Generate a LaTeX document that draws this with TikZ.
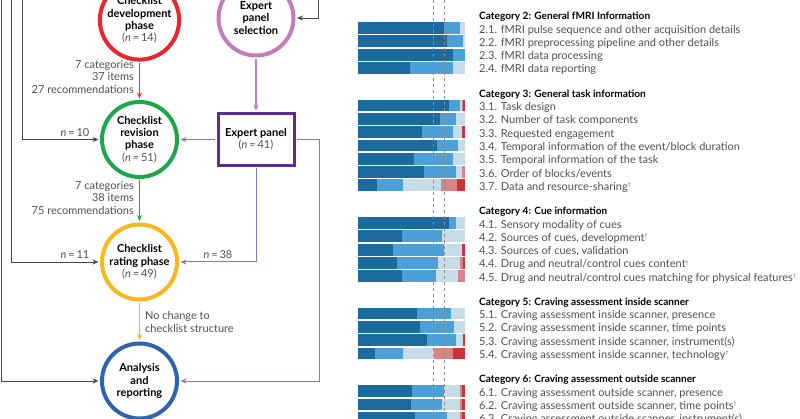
\documentclass[tikz,border=0pt]{standalone}
\usepackage{fontspec}
\setmainfont{Lato}
\usetikzlibrary{arrows.meta}
\definecolor{cdark}{HTML}{1C6B9F}
\definecolor{cmed}{HTML}{4C9FD7}
\definecolor{clight}{HTML}{C6DCE9}
\definecolor{clred}{HTML}{D98484}
\definecolor{cred}{HTML}{C8343B}
\definecolor{rdev}{HTML}{E8262B}
\definecolor{rsel}{HTML}{C27BBB}
\definecolor{rbox}{HTML}{5C2D91}
\definecolor{rrev}{HTML}{1FA54B}
\definecolor{rrat}{HTML}{F8B71C}
\definecolor{rana}{HTML}{3063AD}
\definecolor{lpur}{HTML}{9073C0}
\definecolor{txtg}{HTML}{505050}
\definecolor{lineg}{HTML}{444444}
\definecolor{dashg}{HTML}{8C8C8C}
\newcommand\seg[4]{\ifdim #3pt>#2pt \fill[#1] (#2,#4-7.1) rectangle (#3,#4+4.7);\fi}
% #1 y, #2 dark end, #3 medium end, #4 light end, #5 light-red end, #6 name, #7 text
\newcommand\itemrow[7]{%
  \seg{cdark}{358}{#2}{#1}\seg{cmed}{#2}{#3}{#1}\seg{clight}{#3}{#4}{#1}%
  \seg{clred}{#4}{#5}{#1}\seg{cred}{#5}{465}{#1}%
  \node[itemtxt] (#6) at (479,#1+3.8) {#7};}
\newcommand\dg{\textsuperscript{\tiny †}}
\newcommand\nn[1]{{\mdseries\color{txtg}(\textit{n}\,=\,#1)}}
\begin{document}
\begin{tikzpicture}[x=1pt,y=-1pt,
  ring/.style={circle, draw, line width=4pt, minimum size=75pt, inner sep=0pt, align=center,
    fill=white, text=black, font=\fontsize{11}{12.3}\selectfont\bfseries},
  lab/.style={text=txtg, font=\fontsize{11}{12.3}\selectfont, inner sep=0pt},
  itemtxt/.style={anchor=base west, inner sep=0pt, text=txtg, font=\fontsize{11}{12}\selectfont},
  headtxt/.style={anchor=base west, inner sep=0pt, text=black, font=\fontsize{10.1}{12}\selectfont\bfseries},
  blk/.style={draw=lineg, line width=0.9pt, -{Stealth[length=6pt,width=5pt]}},
  pur/.style={draw=lpur, line width=1pt, -{Stealth[length=6pt,width=5pt]}},
  col/.style={line width=1.1pt, -{Stealth[length=6pt,width=5pt]}, shorten >=1.5pt, shorten <=1.5pt}
]
\useasboundingbox (0,0) rectangle (800,419);
\clip (0,0) rectangle (800,419);
\fill[white] (0,0) rectangle (800,419);

% ---------- flow chart ----------
\node[ring, draw=rdev] (dev) at (139.5,20) {Checklist\\development\\phase\\\nn{14}};
\node[ring, draw=rsel] (sel) at (256,18) {Expert\\panel\\selection};
\node[ring, draw=rrev] (rev) at (139.5,139.5) {Checklist\\revision\\phase\\\nn{51}};
\node[ring, draw=rrat] (rat) at (139.5,262) {Checklist\\rating phase\\\nn{49}};
\node[ring, draw=rana] (ana) at (139.5,381) {Analysis\\and\\reporting};
\node[draw=rbox, line width=3pt, minimum width=76pt, minimum height=52pt, inner sep=0pt,
      align=center, fill=white, font=\fontsize{11}{12.3}\selectfont\bfseries] (box) at (256,139.5)
      {Expert panel\\\nn{41}};

\coordinate (t1) at (1,0);
\coordinate (t2) at (11,0);
\coordinate (t3) at (22,0);
\coordinate (t4) at (318,0);
\draw[blk, shorten >=1.5pt] (t3) |- (rev.west);
\draw[blk, shorten >=1.5pt] (t2) |- (rat.west);
\draw[blk, shorten >=1.5pt] (t1) |- (ana.west);
\draw[blk, shorten >=1.5pt] (t4) |- (sel.east);

\draw[col, draw=rdev!80!orange] (dev.south) -- (rev.north);
\draw[col, draw=rrev] (rev.south) -- (rat.north);
\draw[col, draw=rrat] (rat.south) -- (ana.north);
\draw[col, draw=rsel] (sel.south) -- (box.north);

\draw[pur, shorten >=1.5pt, shorten <=1.5pt] (box.west) -- (rev.east);
\draw[pur, shorten >=1.5pt, shorten <=1.5pt] (box.south) -- (box.south |- rat.east) -- (rat.east);
\draw[pur, shorten >=1.5pt, shorten <=1.5pt] (box.east) -- (319,139.5) |- (ana.east);

\node[lab, anchor=east, align=right] (lab1) at (134,77) {7 categories\\37 items\\27 recommendations};
\node[lab, anchor=east, align=right] (lab2) at (134,198) {7 categories\\38 items\\75 recommendations};
\node[lab, anchor=west, align=left] (lab3) at (145,322) {No change to\\checklist structure};
\node[lab, anchor=base] (n10) at (75,137) {\textit{n}\,=\,10};
\node[lab, anchor=base] (n11) at (75,259) {\textit{n}\,=\,11};
\node[lab, anchor=base] (n38) at (218,259) {\textit{n}\,=\,38};

% ---------- chart ----------
\node[headtxt] (h2) at (479,19.8) {Category 2: General fMRI Information};
\itemrow{29.3}{444.3}{460}{465}{465}{i21}{2.1. fMRI pulse sequence and other acquisition details}
\itemrow{42.6}{446.7}{463.3}{465}{465}{i22}{2.2. fMRI preprocessing pipeline and other details}
\itemrow{55.9}{453.3}{465}{465}{465}{i23}{2.3. fMRI data processing}
\itemrow{69.2}{410}{453.3}{465}{465}{i24}{2.4. fMRI data reporting}

\node[headtxt] (h3) at (479,97.3) {Category 3: General task information};
\itemrow{106.8}{449}{460}{462}{462.6}{i31}{3.1. Task design}
\itemrow{120.1}{440}{456}{465}{465}{i32}{3.2. Number of task components}
\itemrow{133.4}{421.7}{453.3}{462.3}{462.3}{i33}{3.3. Requested engagement}
\itemrow{146.7}{436.7}{458.3}{465}{465}{i34}{3.4. Temporal information of the event/block duration}
\itemrow{160}{414}{453.3}{465}{465}{i35}{3.5. Temporal information of the task}
\itemrow{173.3}{424}{456}{462.3}{465}{i36}{3.6. Order of blocks/events}
\itemrow{186.6}{377.3}{403.3}{441}{457.3}{i37}{3.7. Data and resource-sharing\dg}

\node[headtxt] (h4) at (479,214.8) {Category 4: Cue information};
\itemrow{224.3}{449}{456}{465}{465}{i41}{4.1. Sensory modality of cues}
\itemrow{237.6}{401.7}{442.3}{465}{465}{i42}{4.2. Sources of cues, development\dg}
\itemrow{250.9}{393.3}{444}{462.3}{462.3}{i43}{4.3. Sources of cues, validation}
\itemrow{264.2}{397.3}{437.7}{460}{462.5}{i44}{4.4. Drug and neutral/control cues content\dg}
\itemrow{277.5}{401.7}{436}{457.7}{465}{i45}{4.5. Drug and neutral/control cues matching for physical features\dg}

\node[headtxt] (h5) at (479,305.3) {Category 5: Craving assessment inside scanner};
\itemrow{314.8}{416.7}{451}{465}{465}{i51}{5.1. Craving assessment inside scanner, presence}
\itemrow{328.1}{420}{454}{465}{465}{i52}{5.2. Craving assessment inside scanner, time points}
\itemrow{341.4}{427.3}{455.7}{462.7}{462.7}{i53}{5.3. Craving assessment inside scanner, instrument(s)}
\itemrow{354.7}{375}{403.3}{434.3}{452.7}{i54}{5.4. Craving assessment inside scanner, technology\dg}

\node[headtxt] (h6) at (479,382.8) {Category 6: Craving assessment outside scanner};
\itemrow{392.3}{411.7}{444.3}{460}{462}{i61}{6.1. Craving assessment outside scanner, presence}
\itemrow{405.6}{410.7}{442.3}{460}{462}{i62}{6.2. Craving assessment outside scanner, time points\dg}
\itemrow{418.9}{415}{446.7}{460}{462}{i63}{6.3. Craving assessment outside scanner, instrument(s)}

\draw[dashg, line width=0.9pt, dash pattern=on 3pt off 3pt] (433,0) -- (433,419);
\draw[dashg, line width=0.9pt, dash pattern=on 3pt off 3pt] (444,0) -- (444,419);
\end{tikzpicture}
\end{document}
